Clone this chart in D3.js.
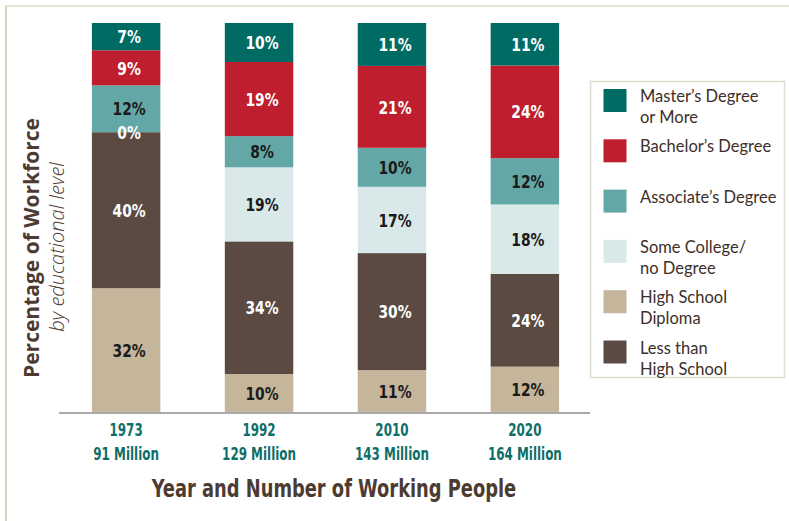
<!DOCTYPE html>
<html>
<head>
<meta charset="utf-8">
<script src="https://cdn.jsdelivr.net/npm/d3@7"></script>
<style>
  html, body { margin: 0; padding: 0; background: #fff; }
  svg { display: block; }
  .cond { font-family: 'DejaVu Sans', sans-serif; font-stretch: condensed; }
</style>
</head>
<body>
<svg id="chart" width="789" height="521"></svg>
<script>
// ---- data ----
const years = ["1973", "1992", "2010", "2020"];
const workers = ["91 Million", "129 Million", "143 Million", "164 Million"];
const seriesKeys = ["hsDiploma", "lessThanHS", "someCollege", "associate", "bachelor", "master"];
const hsDiploma   = [32, 10, 11, 12];
const lessThanHS  = [40, 34, 30, 24];
const someCollege = [0, 19, 17, 18];
const associate   = [12, 8, 10, 12];
const bachelor    = [9, 19, 21, 24];
const master      = [7, 10, 11, 11];
const legendLabels = [
  ["Master\u2019s Degree", "or More"],
  ["Bachelor\u2019s Degree"],
  ["Associate\u2019s Degree"],
  ["Some College/", "no Degree"],
  ["High School", "Diploma"],
  ["Less than", "High School"]
];
const legendKeys = ["master", "bachelor", "associate", "someCollege", "hsDiploma", "lessThanHS"];

const colors = {
  master: "#006b63",
  bachelor: "#be1e2d",
  associate: "#63a7a6",
  someCollege: "#d9e9e9",
  hsDiploma: "#c4b59b",
  lessThanHS: "#5a4a42"
};
const labelColors = {
  master: "#ffffff",
  bachelor: "#ffffff",
  associate: "#1a1a1a",
  someCollege: "#1a1a1a",
  hsDiploma: "#1a1a1a",
  lessThanHS: "#ffffff"
};

const valuesByKey = { hsDiploma, lessThanHS, someCollege, associate, bachelor, master };
const table = years.map((y, i) => {
  const row = { year: y, workers: workers[i] };
  seriesKeys.forEach(k => row[k] = valuesByKey[k][i]);
  return row;
});

const svg = d3.select("#chart");

// frame
svg.append("line").attr("x1", 6).attr("x2", 789).attr("y1", 6).attr("y2", 6)
  .attr("stroke", "#e8e2d6").attr("stroke-width", 2);
svg.append("line").attr("x1", 6).attr("x2", 6).attr("y1", 6).attr("y2", 521)
  .attr("stroke", "#d9d0c1").attr("stroke-width", 2);

const x = d3.scaleBand().domain(years).range([60, 591]).paddingInner(0.485).paddingOuter(0.24);
const y = d3.scaleLinear().domain([0, 1]).range([413, 23]);

const stack = d3.stack().keys(seriesKeys).offset(d3.stackOffsetExpand);
const stacked = stack(table);

const g = svg.append("g");
const layers = g.selectAll("g.layer").data(stacked).join("g")
  .attr("class", "layer")
  .attr("fill", d => colors[d.key]);

layers.selectAll("rect").data(d => d).join("rect")
  .attr("x", d => x(d.data.year))
  .attr("width", x.bandwidth())
  .attr("y", d => y(d[1]))
  .attr("height", d => y(d[0]) - y(d[1]));

// helper: horizontally condensed text
function condText(parent, tx, ty, sx) {
  return parent.append("text")
    .attr("class", "cond")
    .attr("transform", `translate(${tx},${ty}) scale(${sx},1)`);
}

// value labels
const labelG = svg.append("g");
stacked.forEach(layer => {
  layer.forEach(d => {
    const v = d.data[layer.key];
    condText(labelG, x(d.data.year) + x.bandwidth() / 2 + 3, (y(d[0]) + y(d[1])) / 2, 0.88)
      .attr("dy", "0.38em")
      .attr("text-anchor", "middle")
      .attr("font-weight", "bold")
      .attr("font-size", 17.5)
      .attr("fill", v === 0 ? "#ffffff" : labelColors[layer.key])
      .text(v + "%");
  });
});

// x axis
const axis = svg.append("g").attr("transform", "translate(0,413)")
  .call(d3.axisBottom(x).tickSize(0).tickSizeOuter(0).tickFormat(""));
axis.select(".domain").attr("stroke", "#a9a9a9").attr("stroke-width", 2)
  .attr("d", "M59,0H590");
axis.selectAll(".tick").each(function(d, i) {
  const t = condText(d3.select(this), 0, 0, 0.78)
    .attr("text-anchor", "middle")
    .attr("font-weight", "bold")
    .attr("font-size", 17)
    .attr("fill", "#0e6e68");
  t.append("tspan").attr("x", 0).attr("y", 23).text(years[i]);
  t.append("tspan").attr("x", 0).attr("y", 47).text(workers[i]);
});

// x title
condText(svg, 334, 497, 0.81)
  .attr("text-anchor", "middle")
  .attr("font-weight", "bold")
  .attr("font-size", 24.5)
  .attr("fill", "#4d3b32")
  .text("Year and Number of Working People");

// y titles
svg.append("text")
  .attr("transform", "translate(39,248) rotate(-90)")
  .attr("text-anchor", "middle")
  .attr("font-family", "'Open Sans', sans-serif")
  .attr("font-weight", "bold")
  .attr("font-size", 21)
  .attr("fill", "#4d3b32")
  .text("Percentage of Workforce");
svg.append("text")
  .attr("transform", "translate(64,247) rotate(-90)")
  .attr("text-anchor", "middle")
  .attr("font-family", "'Open Sans', sans-serif")
  .attr("font-weight", 300)
  .attr("font-style", "italic")
  .attr("font-size", 20)
  .attr("fill", "#4d3b32")
  .text("by educational level");

// legend
const legend = svg.append("g");
legend.append("rect")
  .attr("x", 590.5).attr("y", 81.5).attr("width", 194).attr("height", 296)
  .attr("fill", "#fff").attr("stroke", "#e2dbcf").attr("stroke-width", 1.5);
legendKeys.forEach((k, i) => {
  const top = 89 + i * 50.3;
  legend.append("rect")
    .attr("x", 603.5).attr("y", top).attr("width", 23).attr("height", 23)
    .attr("fill", colors[k]);
  const t = legend.append("text")
    .attr("font-family", "Lato, 'Open Sans', sans-serif")
    .attr("font-size", 16.5)
    .attr("fill", "#3e2f28");
  legendLabels[i].forEach((line, j) => {
    t.append("tspan").attr("x", 640).attr("y", top + 13 + j * 21).text(line);
  });
});
</script>
</body>
</html>
